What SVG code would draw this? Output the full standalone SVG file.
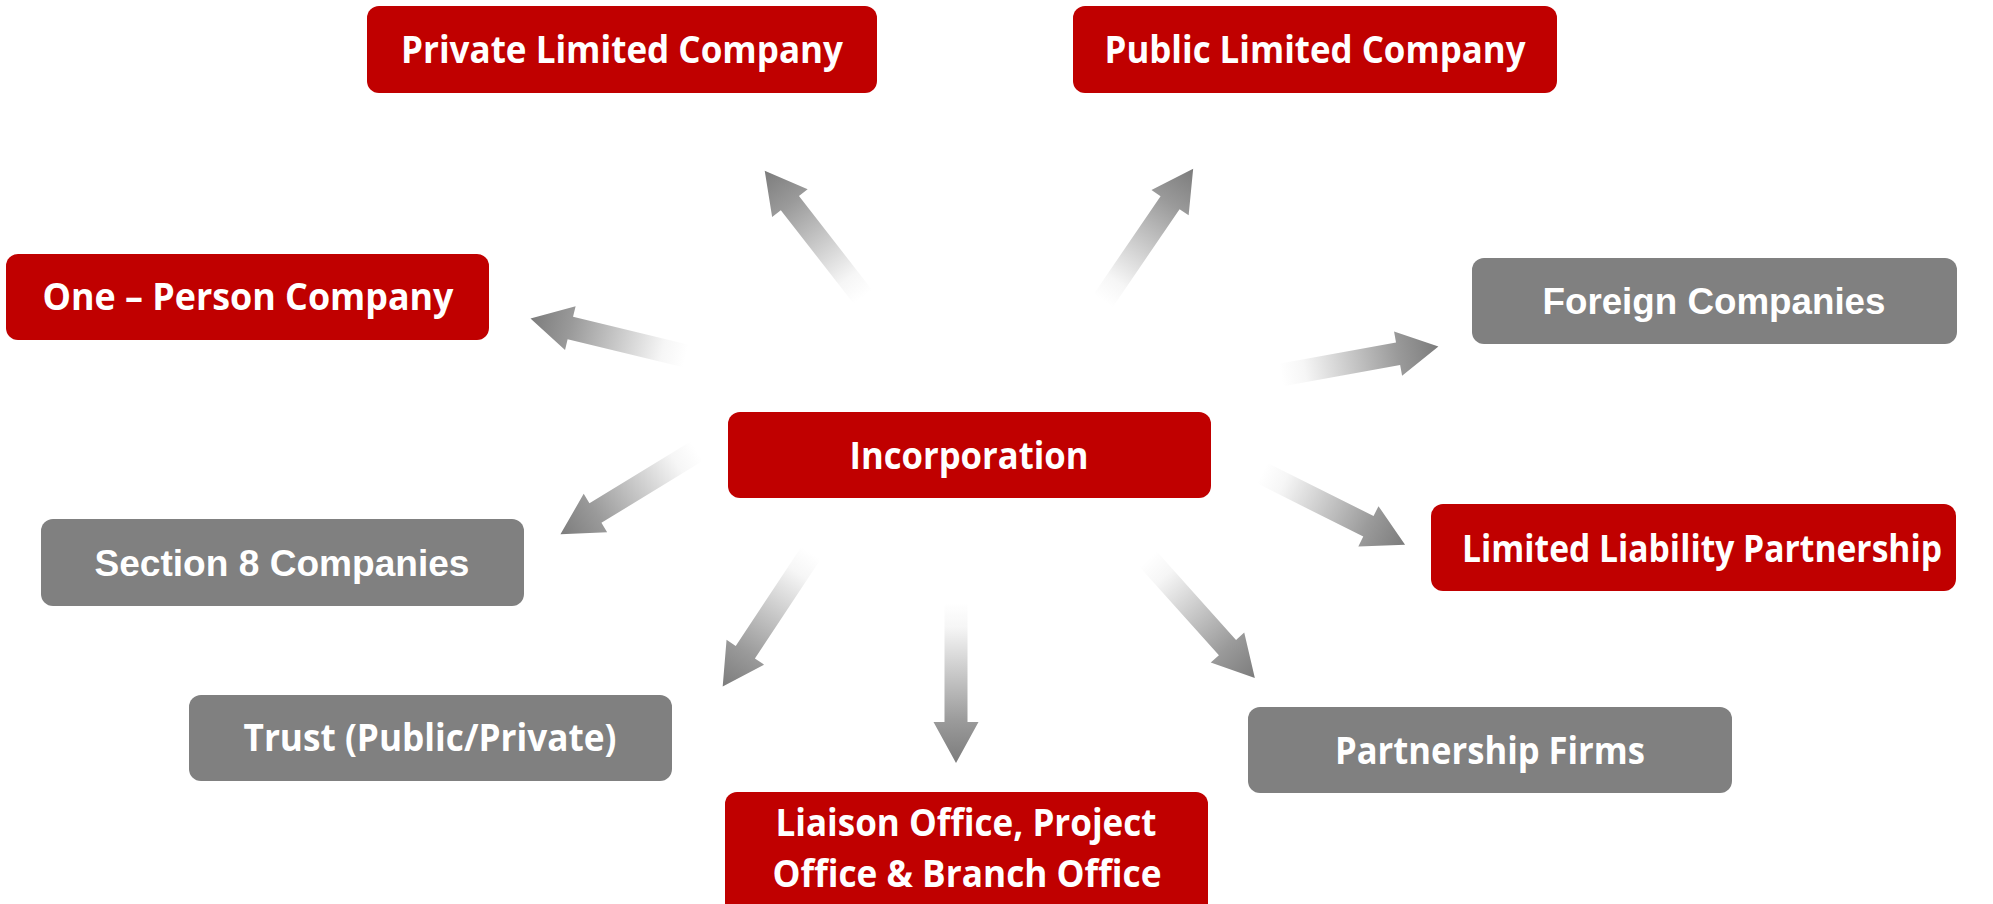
<svg xmlns="http://www.w3.org/2000/svg" width="1993" height="904" viewBox="0 0 1993 904">
<defs>
<style>
.red{fill:#C00000}
.gray{fill:#808080}
.t{fill:#ffffff;font-family:"Open Sans","Noto Sans",sans-serif;font-weight:700;font-size:38px;text-anchor:middle}
.a{fill:#ffffff;font-family:"Liberation Sans",Arial,sans-serif;font-weight:700;font-size:37px;text-anchor:middle}
</style>
<linearGradient id="fade" gradientUnits="userSpaceOnUse" x1="0" y1="0" x2="160" y2="0">
<stop offset="0" stop-color="#ffffff"/>
<stop offset="0.15" stop-color="#f6f6f6"/>
<stop offset="0.74" stop-color="#9a9a9a"/>
<stop offset="1" stop-color="#7c7c7c"/>
</linearGradient>
<path id="arr" d="M0,-11.5 L119,-11.5 L119,-22.5 L160,0 L119,22.5 L119,11.5 L0,11.5 Z" fill="url(#fade)"/>
</defs>
<rect width="1993" height="904" fill="#ffffff"/>
<g id="connectors">
<use href="#arr" transform="translate(863,297) rotate(-127.9)"/>
<use href="#arr" transform="translate(1103,301) rotate(-55.7)"/>
<use href="#arr" transform="translate(686,356) rotate(-166.4)"/>
<use href="#arr" transform="translate(1281,375) rotate(-10.3)"/>
<use href="#arr" transform="translate(697,451) rotate(148.6)"/>
<use href="#arr" transform="translate(1262,473) rotate(26.6)"/>
<use href="#arr" transform="translate(811,553) rotate(123.5)"/>
<use href="#arr" transform="translate(956,603) rotate(90)"/>
<use href="#arr" transform="translate(1148,559) rotate(48.1)"/>
</g>
<g id="private">
<rect class="red" x="367" y="6" width="510" height="87" rx="12"/>
<text class="t" x="622" y="63" textLength="442" lengthAdjust="spacingAndGlyphs">Private Limited Company</text>
</g>
<g id="public">
<rect class="red" x="1073" y="6" width="484" height="87" rx="12"/>
<text class="t" x="1315" y="63" textLength="421" lengthAdjust="spacingAndGlyphs">Public Limited Company</text>
</g>
<g id="one-person">
<rect class="red" x="6" y="254" width="483" height="86" rx="12"/>
<text class="t" x="248" y="310" textLength="411" lengthAdjust="spacingAndGlyphs">One – Person Company</text>
</g>
<g id="foreign">
<rect class="gray" x="1472" y="258" width="485" height="86" rx="12"/>
<text class="a" x="1714" y="314" textLength="343" lengthAdjust="spacingAndGlyphs">Foreign Companies</text>
</g>
<g id="incorporation">
<rect class="red" x="728" y="412" width="483" height="86" rx="12"/>
<text class="t" x="969" y="469" textLength="239" lengthAdjust="spacingAndGlyphs">Incorporation</text>
</g>
<g id="section8">
<rect class="gray" x="41" y="519" width="483" height="87" rx="12"/>
<text class="a" x="282" y="576" textLength="375" lengthAdjust="spacingAndGlyphs">Section 8 Companies</text>
</g>
<g id="llp">
<rect class="red" x="1431" y="504" width="525" height="87" rx="12"/>
<text class="t" x="1702" y="562" textLength="480" lengthAdjust="spacingAndGlyphs">Limited Liability Partnership</text>
</g>
<g id="trust">
<rect class="gray" x="189" y="695" width="483" height="86" rx="12"/>
<text class="t" x="430" y="751" textLength="373" lengthAdjust="spacingAndGlyphs">Trust (Public/Private)</text>
</g>
<g id="partnership">
<rect class="gray" x="1248" y="707" width="484" height="86" rx="12"/>
<text class="t" x="1490" y="764" textLength="310" lengthAdjust="spacingAndGlyphs">Partnership Firms</text>
</g>
<g id="liaison">
<rect class="red" x="725" y="792" width="483" height="130" rx="12"/>
<text class="t" x="966" y="836" textLength="381" lengthAdjust="spacingAndGlyphs">Liaison Office, Project</text>
<text class="t" x="967" y="887" textLength="389" lengthAdjust="spacingAndGlyphs">Office &amp; Branch Office</text>
</g>
</svg>
